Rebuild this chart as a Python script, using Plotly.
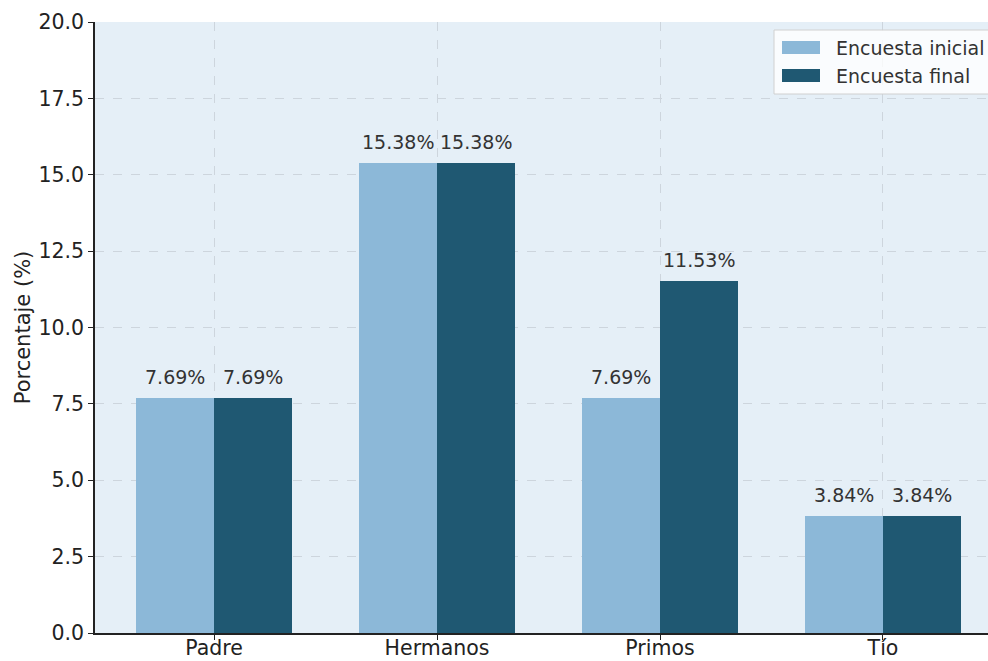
import plotly.graph_objects as go

categorias = ["Padre", "Hermanos", "Primos", "Tío"]
inicial = [7.69, 15.38, 7.69, 3.84]
final = [7.69, 15.38, 11.53, 3.84]
series = ["Encuesta inicial", "Encuesta final"]
y_ticks = [0.0, 2.5, 5.0, 7.5, 10.0, 12.5, 15.0, 17.5, 20.0]

color_inicial = "#8cb8d8"
color_final = "#1f5872"
fuente = "DejaVu Sans"
texto = "#333333"
ancho = 0.35

fig = go.Figure()
for nombre, valores, color, off in [(series[0], inicial, color_inicial, -ancho),
                                     (series[1], final, color_final, 0.0)]:
    xs = list(range(len(categorias)))
    fig.add_trace(go.Bar(
        x=xs, y=valores, name=nombre,
        width=ancho, offset=off, marker=dict(color=color, line=dict(width=0)),
        showlegend=False,
    ))
    # value labels above each bar
    for xi, v in zip(xs, valores):
        fig.add_annotation(x=xi + off + ancho / 2, y=v, text=f"{v:.2f}%",
                           showarrow=False, yanchor="bottom", yshift=8,
                           font=dict(family=fuente, size=19, color=texto))

fig.update_layout(
    width=988, height=661,
    margin=dict(l=95, r=0, t=22, b=28),
    paper_bgcolor="white", plot_bgcolor="#e5eff7",
    font=dict(family=fuente, size=18, color="#222222"),
    barmode="overlay", bargap=0,
)
fig.update_xaxes(
    range=[-0.534, 3.471], tickmode="array",
    tickvals=list(range(len(categorias))), ticktext=categorias,
    showgrid=True, gridcolor="#cdd5dd", griddash="dash", gridwidth=1,
    showline=True, linecolor="#222222", linewidth=1.5,
    ticks="outside", ticklen=5, tickcolor="#222222",
    tickfont=dict(size=20.5, color="#222222"), layer="above traces",
    zeroline=False, automargin=False, ticklabelstandoff=-9,
)
fig.update_yaxes(
    range=[0, 20], tickmode="array", tickvals=y_ticks,
    ticktext=[f"{t:.1f}" for t in y_ticks],
    showgrid=True, gridcolor="#cdd5dd", griddash="dash", gridwidth=1,
    showline=True, linecolor="#222222", linewidth=1.5,
    ticks="outside", ticklen=5, tickcolor="#222222",
    tickfont=dict(size=20.5, color="#222222"), layer="above traces",
    zeroline=False, automargin=False,
    title=dict(text="Porcentaje (%)", font=dict(size=21, color="#222222"), standoff=2),
)

# Legend box drawn in paper coordinates
W, H = 988 - 95, 661 - 50
def px(x):
    return (x - 95) / W
def py(y):
    return 1 - (y - 22) / H

fig.add_shape(type="rect", xref="paper", yref="paper",
              x0=px(774), x1=px(992), y0=py(94), y1=py(30),
              fillcolor="rgba(255,255,255,0.8)", line=dict(color="#d0d0d0", width=1),
              layer="above")
for i, (nombre, color) in enumerate(zip(series, [color_inicial, color_final])):
    yc = 47.5 + i * 28
    fig.add_shape(type="rect", xref="paper", yref="paper",
                  x0=px(782), x1=px(820), y0=py(yc + 6.5), y1=py(yc - 6.5),
                  fillcolor=color, line=dict(width=0), layer="above")
    fig.add_annotation(xref="paper", yref="paper", x=px(834), y=py(yc),
                       text=nombre, showarrow=False, xanchor="left", yanchor="middle",
                       font=dict(family=fuente, size=19, color=texto))

fig.write_html("out.html")
